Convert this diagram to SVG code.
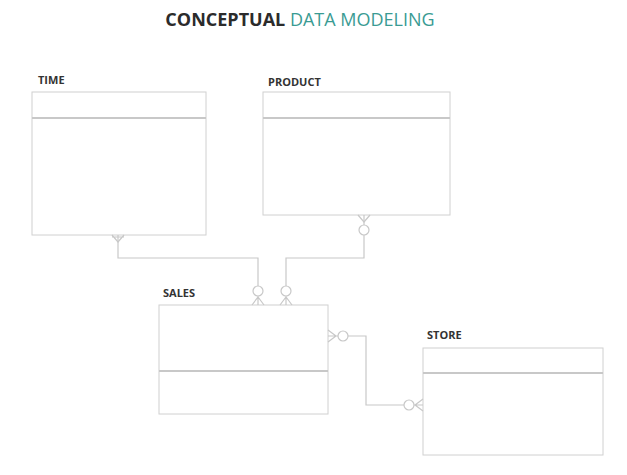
<svg xmlns="http://www.w3.org/2000/svg" width="627" height="475" viewBox="0 0 627 475">
<style>
.box{fill:#fff;stroke:#d0d0d0;stroke-width:1}
.sep{stroke:#c8c8c8;stroke-width:2}
.lbl{font-family:"Open Sans","Liberation Sans",sans-serif;font-size:11px;font-weight:bold;fill:#333}
.c{fill:none;stroke:#c8c8c8;stroke-width:1.2}
</style>
<rect width="627" height="475" fill="#fff"/>
<text x="300" y="26" text-anchor="middle" font-family="'Open Sans','Liberation Sans',sans-serif" font-size="18"><tspan font-weight="bold" fill="#2b2b2b">CONCEPTUAL </tspan><tspan fill="#3a9b93">DATA MODELING</tspan></text>
<g id="time"><text class="lbl" x="38" y="84">TIME</text><rect class="box" x="32" y="92" width="174" height="143"/><line class="sep" x1="32" y1="118" x2="206" y2="118"/></g>
<g id="product"><text class="lbl" x="268" y="86">PRODUCT</text><rect class="box" x="263" y="92" width="187" height="123"/><line class="sep" x1="263" y1="118" x2="450" y2="118"/></g>
<g id="sales"><text class="lbl" x="163" y="297">SALES</text><rect class="box" x="159" y="305" width="169" height="109"/><line class="sep" x1="159" y1="371" x2="328" y2="371"/></g>
<g id="store"><text class="lbl" x="427" y="339">STORE</text><rect class="box" x="423" y="348" width="180" height="107"/><line class="sep" x1="423" y1="373" x2="603" y2="373"/></g>
<g id="connectors" class="c">
<path d="M118 235V258H258V286"/><path d="M112 237H124M112 235L118 242L124 235"/>
<circle cx="258" cy="291" r="5"/><path d="M252 305L258 297L264 305M258 296V305"/>
<path d="M364 215V225M364 235V258H286V286"/><path d="M358 215L364 222L370 215"/><circle cx="364" cy="230" r="5"/>
<circle cx="286" cy="291" r="5"/><path d="M280 305L286 297L292 305M286 296V305"/>
<path d="M328 330L336 336L328 342M328 336H338"/><circle cx="343" cy="336" r="5"/>
<path d="M348 336H366V405H404"/><circle cx="409" cy="405" r="5"/><path d="M423 399L415 405L423 411M414 405H423"/>
</g>
</svg>
